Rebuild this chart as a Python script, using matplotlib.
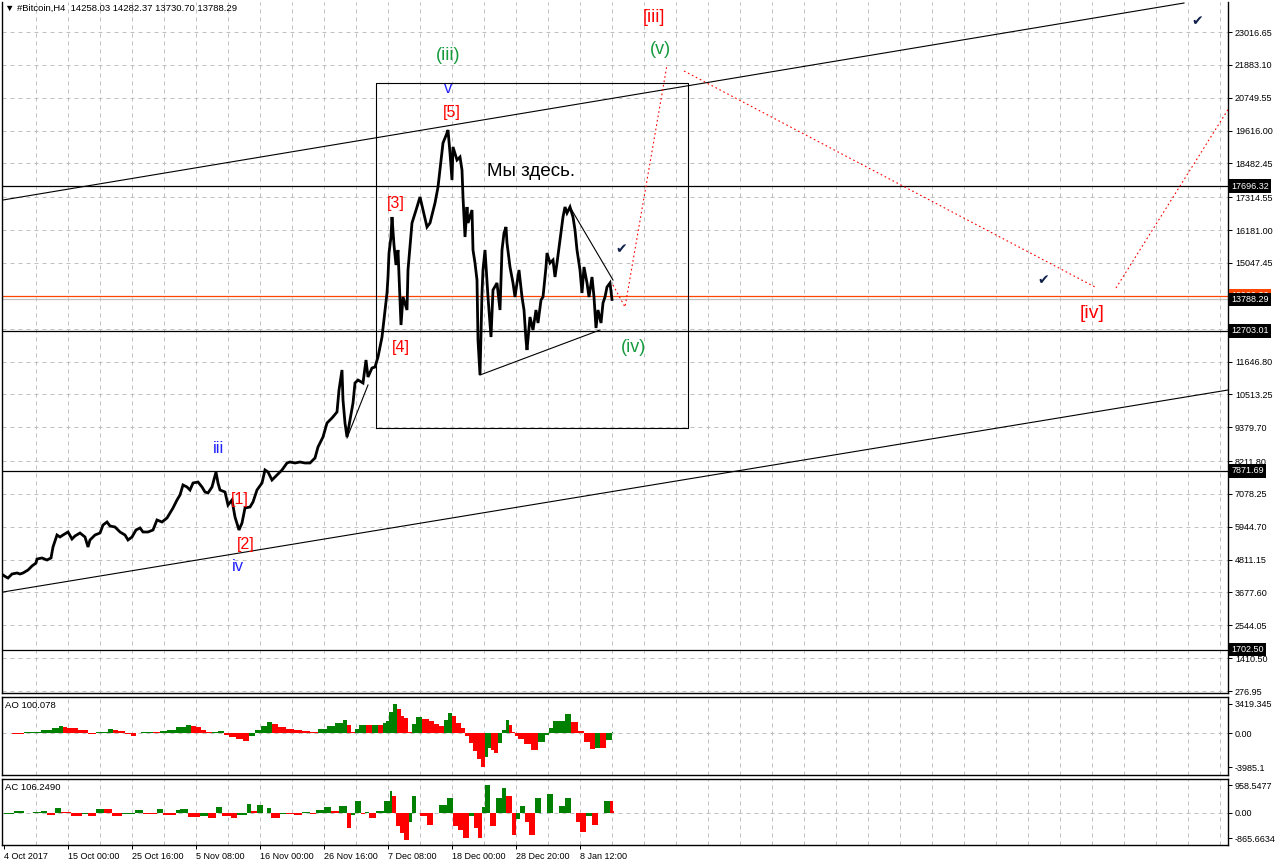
import matplotlib
matplotlib.use("Agg")
import matplotlib.pyplot as plt
import matplotlib.transforms as mtransforms
import numpy as np

# ---- price path (bar index, price) ----
bar_x = [3, 6, 8, 12, 17, 20, 23, 28, 32, 36, 37, 42, 47, 51, 53, 57, 60, 63, 68, 72,
         75, 80, 85, 88, 90, 95, 100, 103, 107, 110, 115, 120, 125, 128, 132, 136, 140,
         143, 148, 153, 157, 162, 167, 170, 173, 177, 180, 183, 187, 190, 193, 198, 202,
         205, 208, 212, 216, 218, 220, 225, 228, 232, 235, 239, 242, 245, 250, 253, 257,
         262, 265, 268, 272, 277, 282, 287, 290, 295, 300, 305, 310, 315, 318, 323, 327,
         332, 337, 339, 342, 343, 345, 347, 350, 353, 355, 358, 363, 366, 368, 372, 375,
         378, 382, 385, 387, 388, 389, 391, 392, 394, 396, 398, 401, 403, 407, 408, 412,
         417, 420, 423, 427, 430, 435, 438, 443, 447, 448, 450, 452, 453, 457, 460, 462,
         463, 465, 467, 468, 472, 473, 475, 477, 478, 480, 482, 483, 485, 488, 491, 493,
         497, 500, 502, 504, 506, 507, 510, 513, 515, 517, 519, 522, 524, 526, 527, 530,
         533, 536, 538, 541, 543, 546, 547, 550, 553, 555, 557, 560, 563, 565, 567, 570,
         573, 575, 577, 580, 582, 584, 587, 589, 592, 594, 596, 598, 601, 603, 605, 607,
         610, 612]
price = [4280, 4211, 4176, 4314, 4349, 4314, 4349, 4452, 4590, 4694, 4832, 4867, 4797,
         4867, 5246, 5660, 5591, 5660, 5764, 5522, 5626, 5729, 5591, 5246, 5488, 5660,
         5729, 6005, 6109, 5971, 5936, 5764, 5660, 5488, 5591, 5833, 5902, 5764, 5764,
         5833, 6178, 6109, 6247, 6419, 6592, 6868, 7041, 7386, 7317, 7213, 7454, 7489,
         7317, 7144, 7110, 7317, 7834, 7454, 7213, 7144, 6695, 6868, 6281, 5833, 6074,
         6592, 6626, 6799, 7213, 7454, 7903, 7834, 7558, 7731, 7903, 8145, 8179, 8145,
         8179, 8145, 8145, 8317, 8697, 9042, 9525, 9697, 9904, 10663, 11354, 10318, 9525,
         9042, 9628, 10215, 10905, 11008, 10905, 11698, 11112, 11423, 11457, 11802, 12492,
         13424, 14011, 14563, 15391, 15943, 16633, 15667, 14977, 15494, 12906, 13873,
         13424, 14804, 16426, 16978, 17323, 16874, 16288, 16426, 17116, 17668, 19186,
         19531, 19635, 18841, 17910, 19048, 18600, 18703, 18255, 17323, 15943, 16978,
         16426, 16874, 15494, 15046, 14459, 12389, 11181, 14011, 14804, 15494, 13873,
         12492, 14114, 14356, 13424, 15494, 16081, 16288, 15736, 14908, 14356, 13873,
         14356, 14804, 13873, 13424, 12389, 12044, 13182, 12734, 13424, 12975, 13769,
         13873, 14908, 15391, 15046, 15149, 14563, 15046, 15839, 16633, 16978, 16771,
         16978, 16633, 16184, 15494, 14804, 14011, 14908, 14356, 13873, 14563, 13873,
         12803, 13424, 12975, 13665, 13873, 14218, 14356, 13788.29]

# ---- Awesome Oscillator ----
ao_x = [4, 12, 24, 41, 52, 59, 63, 67, 78, 88, 96, 108, 113, 118, 125, 131, 136, 141,
        153, 160, 167, 176, 186, 191, 196, 201, 206, 212, 218, 224, 229, 236, 243, 249,
        255, 261, 267, 272, 278, 286, 294, 302, 310, 318, 327, 335, 343, 347, 351, 355,
        359, 366, 372, 378, 383, 386, 389, 393, 397, 401, 404, 408, 412, 416, 422, 429,
        434, 439, 444, 448, 452, 456, 461, 465, 469, 473, 477, 481, 485, 488, 491, 494,
        498, 502, 506, 509, 512, 515, 518, 524, 531, 538, 545, 549, 553, 559, 565, 571,
        578, 584, 590, 595, 600, 606, 612]
ao_val = [0, -116, 77, 310, 600, 850, 700, 580, 310, -77, 77, 464, 300, 193, -100, -310,
          0, 116, 77, 250, 387, 700, 967, 850, 696, 400, 77, 120, 193, -200, -464, -700,
          -967, -400, 387, 800, 1237, 1000, 696, 500, 310, 200, 77, 450, 850, 1200, 1547,
          900, 77, 500, 967, 950, 980, 967, 1150, 1353, 2400, 3419, 2800, 2000, 1740, 77,
          1000, 1856, 1600, 1353, 1000, 773, 1500, 2320, 2000, 1200, 580, -387, -1200,
          -2127, -3000, -3985, -2800, -1740, -2000, -2320, -1200, 400, 1547, 900, 77,
          -300, -696, -1300, -1933, -1000, -193, 600, 1353, 1400, 2243, 1300, 193, -1000,
          -1856, -1700, -1740, -800, 77]

# ---- Accelerator Oscillator ----
ac_x = [4, 14, 24, 33, 41, 47, 55, 61, 71, 82, 88, 96, 104, 112, 122, 135, 143, 157,
        163, 176, 180, 188, 200, 208, 216, 222, 231, 237, 247, 251, 257, 263, 267, 271,
        280, 286, 294, 302, 310, 316, 324, 331, 339, 347, 351, 355, 361, 365, 369, 376,
        384, 390, 392, 396, 400, 404, 409, 412, 416, 420, 427, 433, 439, 447, 453, 458,
        463, 469, 474, 478, 482, 485, 490, 496, 502, 506, 512, 516, 520, 525, 529, 535,
        541, 547, 553, 559, 565, 571, 576, 580, 586, 592, 598, 604, 610, 613]
ac_val = [-23, 57, 0, 23, 68, -57, 171, 23, -114, -23, -114, 137, 137, -91, -23, 114,
          -23, 137, -57, 114, 137, -137, -91, -171, 194, -114, -171, -57, 308, 57, 274, 0,
          171, -171, -23, -23, -57, 23, -23, 114, 205, 57, 228, -513, -57, 399, -23, 23,
          -171, 57, 400, 764, 570, -456, -700, -912, -300, 570, 0, -114, -399, 0, 285, 513,
          -456, -600, -855, -114, -500, -865, 200, 958, -456, 513, 855, 570, -741, -200,
          228, -300, -741, 513, 0, 656, 0, 250, 513, 0, -300, -661, -114, -399, 0, 399,
          399, 57]

# ---- axes texts ----
price_ticks = [23016.65, 21883.10, 20749.55, 19616.00, 18482.45, 17314.55, 16181.00,
               15047.45, 13913.90, 12780.35, 11646.80, 10513.25, 9379.70, 8211.80,
               7078.25, 5944.70, 4811.15, 3677.60, 2544.05, 1410.50, 276.95]
hidden_ticks = [13913.90, 12780.35]
level_prices = [17696.32, 12703.01, 7871.69, 1702.50]
ask_line = 13920.30
bid_line = 13788.29
date_ticks = [4, 68, 132, 196, 260, 324, 388, 452, 516, 580]
date_labels = ["4 Oct 2017", "15 Oct 00:00", "25 Oct 16:00", "5 Nov 08:00",
               "16 Nov 00:00", "26 Nov 16:00", "7 Dec 08:00", "18 Dec 00:00",
               "28 Dec 20:00", "8 Jan 12:00"]

# ---- drawn objects (bar index, price) ----
channel_upper = [(3, 17220), (1184, 24017)]
channel_lower = [(3, 3693), (1228, 10663)]
box = (376, 688, 9352, 21257)
triangle_upper = [(570, 16978), (613, 14459)]
triangle_lower = [(480, 11181), (600, 12734)]
wedge_line = [(347, 9007), (368, 10836)]
forecast_1 = [(613, 14287), (625, 13527), (667, 21878)]
forecast_2 = [(684, 21671), (1095, 14218)]
forecast_3 = [(1116, 14183), (1240, 21000)]

RED = "#FF0000"
GREEN = "#159A3C"
BLUE = "#2222FF"
wave_labels = [
    ("[iii]", 654, 23500, RED, 13), ("(v)", 660, 22396, GREEN, 13),
    ("(iii)", 448, 22223, GREEN, 13), ("v", 448, 21084, BLUE, 12),
    ("[5]", 452, 20222, RED, 11.5), ("[3]", 396, 17116, RED, 11.5),
    ("[4]", 401, 12113, RED, 11.5), ("(iv)", 633, 12113, GREEN, 13),
    ("[iv]", 1092, 13320, RED, 14), ("iii", 218, 8662, BLUE, 12),
    ("[1]", 240, 6868, RED, 11.5), ("[2]", 246, 5315, RED, 11.5),
    ("iv", 238, 4556, BLUE, 12),
]
checks = [(621, 15529), (1043, 14459), (1197, 23396)]

plt.rcParams["font.family"] = ["Liberation Sans", "DejaVu Sans"]

W, H = 1276, 866


def rect(x0, y0, x1, y1):
    return [x0 / W, 1 - y1 / H, (x1 - x0) / W, (y1 - y0) / H]


fig = plt.figure(figsize=(W / 100, H / 100), dpi=100)
fig.patch.set_facecolor("white")
ax = fig.add_axes(rect(2, 2, 1228, 693))
ax_ao = fig.add_axes(rect(2, 697, 1228, 775))
ax_ac = fig.add_axes(rect(2, 779, 1228, 845))

grid_kw = dict(color="#C0C0C0", lw=0.72, linestyle=(0, (4, 4)), zorder=0)
grid_x = np.arange(36, 1228, 32)

for a in (ax, ax_ao, ax_ac):
    a.set_xlim(2, 1228)
    for gx in grid_x:
        a.axvline(gx, **grid_kw)
    for s in a.spines.values():
        s.set_linewidth(1.0)
    a.yaxis.tick_right()
    a.tick_params(axis="y", length=3, width=0.72, pad=2, labelsize=6.5)
    a.tick_params(axis="x", length=0)
    a.set_xticks([])

# ---- main price panel ----
ax.set_ylim(208, 24052)
ax.spines["top"].set_visible(False)
for t in price_ticks:
    ax.axhline(t, **grid_kw)
ax.set_yticks(price_ticks,
              ["" if t in hidden_ticks else f"{t:.2f}" for t in price_ticks])

for lv in level_prices:
    ax.axhline(lv, color="black", lw=0.9, zorder=2)
ax.axhline(bid_line, color="#C0C0C0", lw=0.9, zorder=2)
ax.axhline(ask_line, color="#FF4500", lw=0.9, zorder=2)

ax.plot(bar_x, price, color="black", lw=2.0, zorder=3, solid_joinstyle="miter")

for seg in (channel_upper, channel_lower, triangle_upper, triangle_lower, wedge_line):
    xs, ys = zip(*seg)
    ax.plot(xs, ys, color="black", lw=0.8, zorder=4)

bx0, bx1, by0, by1 = box
ax.plot([bx0, bx1, bx1, bx0, bx0], [by0, by0, by1, by1, by0], color="black", lw=0.8, zorder=4)

for seg in (forecast_1, forecast_2, forecast_3):
    xs, ys = zip(*seg)
    ax.plot(xs, ys, color=RED, lw=0.8, linestyle=(0, (1.5, 2.5)), zorder=4)

for txt, x, y, c, fs in wave_labels:
    ax.text(x, y, txt, color=c, fontsize=fs, ha="center", va="center", zorder=5)
ax.text(531, 18220, "Мы здесь.", color="black", fontsize=13.5, ha="center", va="center", zorder=5)
for x, y in checks:
    ax.text(x, y, "✔", color="#10204A", fontsize=10, ha="center", va="center",
            family="DejaVu Sans", zorder=5)

ax.text(5, 1 - 6 / 691, "▼ #Bitcoin,H4  14258.03 14282.37 13730.70 13788.29",
        transform=mtransforms.blended_transform_factory(ax.transData, ax.transAxes),
        fontsize=6.8, ha="left", va="center", color="black")

ytrans = mtransforms.blended_transform_factory(ax.transAxes, ax.transData)
for val, bg in [(ask_line, "#FF4500"), (bid_line, "black")] + [(lv, "black") for lv in level_prices]:
    ax.annotate(f"{val:.2f}", xy=(1, val), xycoords=ytrans, xytext=(2.2, 0),
                textcoords="offset points", ha="left", va="center", color="white",
                fontsize=6.5, annotation_clip=False, zorder=6,
                bbox=dict(boxstyle="square,pad=0.25", fc=bg, ec="none"))

# ---- oscillator panels ----
def osc_panel(a, xs, vals, ylim, ticks, tick_labels, title, title_y):
    xs = np.asarray(xs, dtype=float)
    vals = np.asarray(vals, dtype=float)
    widths = np.append(np.diff(xs), 1.0)
    colors = ["#008000"] + ["#008000" if vals[i] > vals[i - 1] else RED
                            for i in range(1, len(vals))]
    a.bar(xs, vals, width=widths, align="edge", color=colors, linewidth=0, zorder=3)
    a.set_ylim(*ylim)
    a.axhline(0, **grid_kw)
    a.set_yticks(ticks, tick_labels)
    a.text(5, title_y, title,
           transform=mtransforms.blended_transform_factory(a.transData, a.transAxes),
           fontsize=6.8, ha="left", va="center")


osc_panel(ax_ao, ao_x, ao_val, (-4870, 4180), [3419.345, 0, -3985.1],
          ["3419.345", "0.00", "-3985.1"], "AO 100.078", 1 - 8 / 78)
osc_panel(ax_ac, ac_x, ac_val, (-1098, 1166), [958.5477, 0, -865.6634],
          ["958.5477", "0.00", "-865.6634"], "AC 106.2490", 1 - 8 / 66)

ax_ac.set_xticks(date_ticks, date_labels)
ax_ac.tick_params(axis="x", length=3, width=0.72, pad=2, labelsize=6.5)
for lbl in ax_ac.get_xticklabels():
    lbl.set_horizontalalignment("left")

fig.savefig("out.png", dpi=100, facecolor="white")
